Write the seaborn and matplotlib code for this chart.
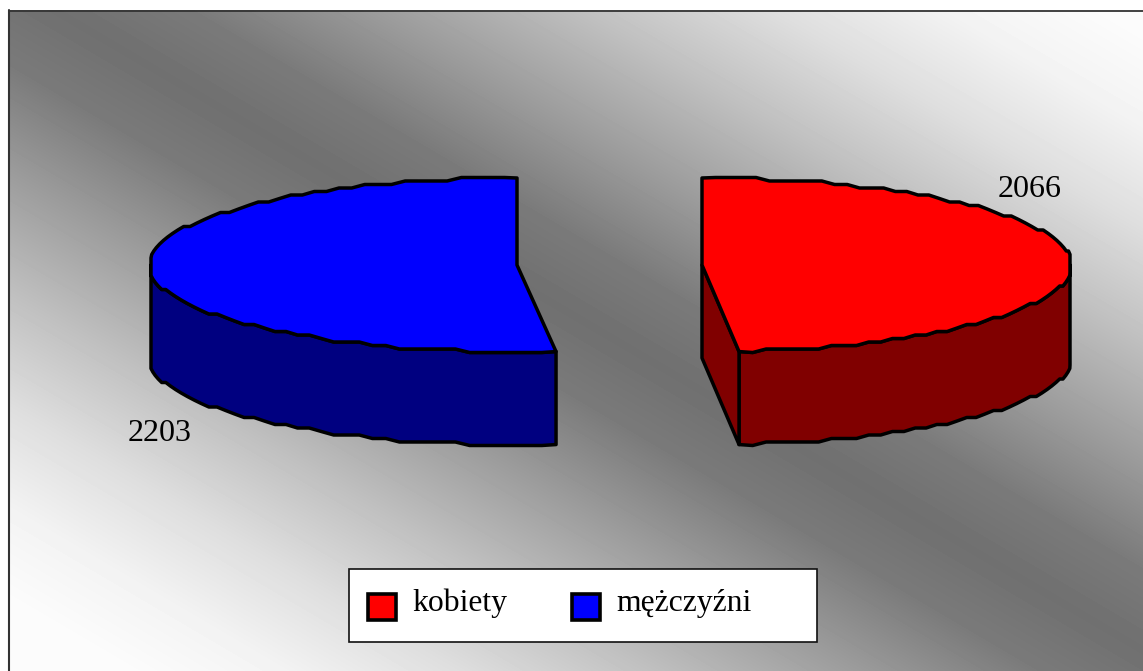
import numpy as np
import pandas as pd
import seaborn as sns
import matplotlib
matplotlib.use('Agg')
import matplotlib.pyplot as plt
from matplotlib.patches import Polygon, Rectangle

labels = ['kobiety', 'mężczyźni']
values = [2066, 2203]
top_colors = ['#ff0000', '#0000ff']
side_colors = ['#800000', '#000080']

df = pd.DataFrame({'label': labels, 'value': values, 'top': top_colors, 'side': side_colors})
df['sweep'] = df['value'] / df['value'].sum() * 360

sns.set_theme(style='white')
plt.rcParams['font.family'] = ['Liberation Serif', 'DejaVu Serif']

W, H = 1143, 671
RX, RY, DEPTH = 368, 87, 93
CY = 265
APEX = {'kobiety': 702, 'mężczyźni': 517}
RIM_CX = {'kobiety': 702, 'mężczyźni': 519}
LW = 2.5


def rim(cx, t):
    # the original outline is a coarse polyline, so snap the heights to a grid
    x = np.clip(RX * 1.006 * np.cos(t), -RX, RX)
    y = np.round(RY * np.sin(t) / 3.5) * 3.5
    return np.column_stack([cx + x, CY - y])


def draw_slice(ax, row, clockwise):
    apex = APEX[row['label']]
    cx = RIM_CX[row['label']]
    sweep = np.radians(row['sweep'])
    start = np.pi / 2
    end = start - sweep if clockwise else start + sweep
    t = np.linspace(start, end, 84)
    edge = rim(cx, t)
    edge[0] = [apex, CY - RY]
    tip = [cx + RX * np.cos(end), CY - RY * np.sin(end)]
    edge[-1] = tip

    # outer wall, only the part facing the viewer
    front = edge[edge[:, 1] >= CY]
    wall = np.vstack([front, (front + [0, DEPTH])[::-1]])
    ax.add_patch(Polygon(wall, closed=True, fc=row['side'], ec='black', lw=LW, joinstyle='round', zorder=3))

    if clockwise:
        # cut face towards the viewer
        face = [[apex, CY], tip, [tip[0], tip[1] + DEPTH], [apex, CY + DEPTH]]
        ax.add_patch(Polygon(face, closed=True, fc=row['side'], ec='black', lw=LW, joinstyle='round', zorder=4))

    top = np.vstack([[apex, CY], edge])
    ax.add_patch(Polygon(top, closed=True, fc=row['top'], ec='black', lw=LW, joinstyle='round', zorder=5))


fig = plt.figure(figsize=(W / 100, H / 100), dpi=100)
fig.patch.set_facecolor('white')
ax = fig.add_axes([0, 0, 1, 1])
ax.set_xlim(0, W)
ax.set_ylim(H, 0)
ax.axis('off')

# background: dark band from top left to bottom right, white towards the other corners
gx, gy = np.meshgrid(np.arange(9, W) + 0.5, np.arange(10, H) + 0.5)
dist = np.abs((gx - 88) - (gy - 30) / 0.588) / 1055
shade = np.interp(dist, [0, 0.13, 0.3, 0.5, 0.68, 0.85, 1.0], [112, 122, 155, 192, 222, 243, 252])
ax.imshow(shade, cmap='gray', vmin=0, vmax=255, extent=[9, W, H, 10], aspect='auto', zorder=0,
          interpolation='bilinear')
ax.plot([W, 9], [10.5, 10.5], color='#333333', lw=1.3, zorder=1)
ax.plot([9, 9], [10, H], color='#333333', lw=1.5, zorder=1)

draw_slice(ax, df.iloc[1], clockwise=False)
draw_slice(ax, df.iloc[0], clockwise=True)

ax.text(1030, 197, str(values[0]), fontsize=23, color='black', ha='center', va='baseline', zorder=6)
ax.text(160, 441, str(values[1]), fontsize=23, color='black', ha='center', va='baseline', zorder=6)

# legend box
ax.add_patch(Rectangle((349, 569), 467.5, 73, fc='white', ec='#111111', lw=1.2, zorder=6))
for c, l, sx, tx in zip(top_colors, labels, [368, 572], [412, 616]):
    ax.add_patch(Rectangle((sx, 594), 28, 26, fc=c, ec='black', lw=2.6, zorder=7))
    ax.text(tx, 611, l, fontsize=22.8, color='black', ha='left', va='baseline', zorder=7)

fig.savefig('out.png', dpi=100)
